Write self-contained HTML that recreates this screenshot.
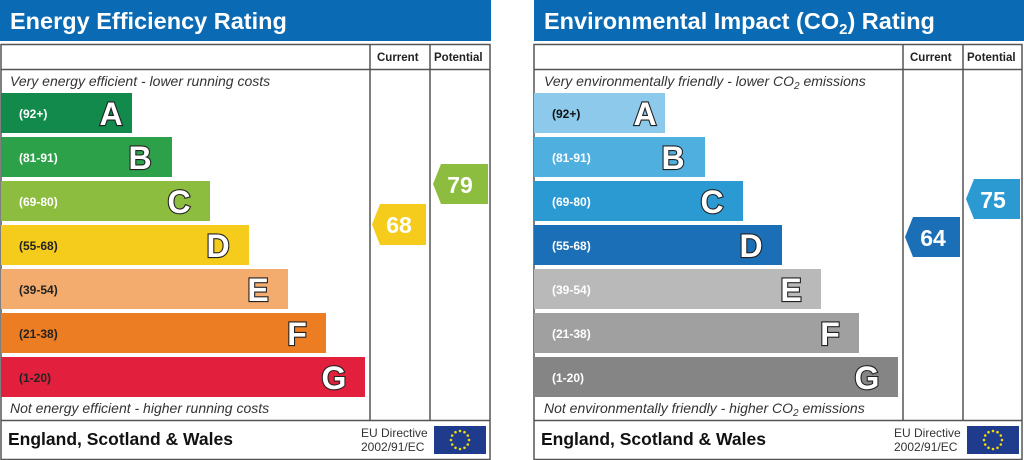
<!DOCTYPE html>
<html><head><meta charset="utf-8"><style>
html,body{margin:0;padding:0;background:#fff;}
svg{display:block;font-family:"Liberation Sans",sans-serif;}
.t{fill:#fff;font-weight:bold;font-size:23.5px;}
.h{font-size:11.5px;font-weight:bold;fill:#222;}
.it{font-style:italic;font-size:14px;fill:#333;}
.r{font-size:12px;font-weight:bold;}
.L{font-size:32px;font-weight:bold;fill:#fff;stroke:#222;stroke-width:2.2px;paint-order:stroke;}
.f{font-size:17.5px;font-weight:bold;fill:#111;}
.eu{font-size:12px;fill:#333;}
.n{font-size:23px;font-weight:bold;fill:#fff;}
</style></head><body>
<svg width="1024" height="460" viewBox="0 0 1024 460">
<defs>
<g id="eu">
<rect x="0" y="0" width="52" height="28" fill="#1f3b8c"/>
<g fill="#f5d90a">
<circle cx="26" cy="5" r="1.3"/><circle cx="30.5" cy="6.2" r="1.3"/><circle cx="33.8" cy="9.5" r="1.3"/><circle cx="35" cy="14" r="1.3"/><circle cx="33.8" cy="18.5" r="1.3"/><circle cx="30.5" cy="21.8" r="1.3"/><circle cx="26" cy="23" r="1.3"/><circle cx="21.5" cy="21.8" r="1.3"/><circle cx="18.2" cy="18.5" r="1.3"/><circle cx="17" cy="14" r="1.3"/><circle cx="18.2" cy="9.5" r="1.3"/><circle cx="21.5" cy="6.2" r="1.3"/>
</g></g>
</defs>

<!-- LEFT PANEL -->
<rect x="0" y="0" width="491" height="41" fill="#0a6ab3"/>
<text x="10" y="29" class="t">Energy Efficiency Rating</text>
<rect x="1" y="44.5" width="489" height="415" fill="#fff" stroke="#555" stroke-width="1.5"/>
<line x1="1" y1="69.5" x2="490" y2="69.5" stroke="#555" stroke-width="1.5"/>
<line x1="370" y1="44" x2="370" y2="420" stroke="#555" stroke-width="1.5"/>
<line x1="430" y1="44" x2="430" y2="420" stroke="#555" stroke-width="1.5"/>
<line x1="1" y1="420.5" x2="490" y2="420.5" stroke="#555" stroke-width="1.5"/>
<text x="377" y="61" class="h">Current</text>
<text x="434" y="61" class="h">Potential</text>
<text x="10" y="86" class="it">Very energy efficient - lower running costs</text>
<rect x="1" y="93" width="131" height="40" fill="#118a4c"/>
<rect x="1" y="137" width="171" height="40" fill="#2ca14a"/>
<rect x="1" y="181" width="209" height="40" fill="#8dbd3e"/>
<rect x="1" y="225" width="248" height="40" fill="#f5cc1c"/>
<rect x="1" y="269" width="287" height="40" fill="#f3ac6d"/>
<rect x="1" y="313" width="325" height="40" fill="#ed7d22"/>
<rect x="1" y="357" width="364" height="40" fill="#e21f3c"/>
<g class="r" fill="#fff">
<text x="19" y="118">(92+)</text>
<text x="19" y="162">(81-91)</text>
<text x="19" y="206">(69-80)</text>
</g>
<g class="r" fill="#222">
<text x="19" y="250">(55-68)</text>
<text x="19" y="294">(39-54)</text>
<text x="19" y="338">(21-38)</text>
<text x="19" y="382">(1-20)</text>
</g>
<g class="L" text-anchor="middle">
<text x="111" y="125">A</text>
<text x="140" y="169">B</text>
<text x="179" y="213">C</text>
<text x="218" y="257">D</text>
<text x="258" y="301">E</text>
<text x="297" y="345">F</text>
<text x="334" y="389">G</text>
</g>
<text x="10" y="413" class="it">Not energy efficient - higher running costs</text>
<text x="8" y="445" class="f">England, Scotland &amp; Wales</text>
<text x="361" y="437" class="eu">EU Directive</text>
<text x="361" y="451" class="eu">2002/91/EC</text>
<use href="#eu" x="434" y="426"/>
<polygon points="380,204 426,204 426,245 380,245 372,224.5" fill="#f5cc1c"/>
<text x="399" y="233" class="n" text-anchor="middle">68</text>
<polygon points="441,164 488,164 488,204 441,204 433,184" fill="#8dbd3e"/>
<text x="460" y="193" class="n" text-anchor="middle">79</text>

<!-- RIGHT PANEL -->
<g transform="translate(533,0)">
<rect x="1" y="0" width="490" height="41" fill="#0a6ab3"/>
<text x="11" y="29" class="t">Environmental Impact (CO<tspan font-size="15" dy="5">2</tspan><tspan dy="-5">) Rating</tspan></text>
<rect x="1" y="44.5" width="488" height="415" fill="#fff" stroke="#555" stroke-width="1.5"/>
<line x1="1" y1="69.5" x2="489" y2="69.5" stroke="#555" stroke-width="1.5"/>
<line x1="370" y1="44" x2="370" y2="420" stroke="#555" stroke-width="1.5"/>
<line x1="430" y1="44" x2="430" y2="420" stroke="#555" stroke-width="1.5"/>
<line x1="1" y1="420.5" x2="489" y2="420.5" stroke="#555" stroke-width="1.5"/>
<text x="377" y="61" class="h">Current</text>
<text x="434" y="61" class="h">Potential</text>
<text x="11" y="86" class="it">Very environmentally friendly - lower CO<tspan font-size="10" dy="3">2</tspan><tspan dy="-3"> emissions</tspan></text>
<rect x="1" y="93" width="131" height="40" fill="#8dc9ea"/>
<rect x="1" y="137" width="171" height="40" fill="#4fb0e0"/>
<rect x="1" y="181" width="209" height="40" fill="#2b9ad3"/>
<rect x="1" y="225" width="248" height="40" fill="#1a6fb6"/>
<rect x="1" y="269" width="287" height="40" fill="#b9b9b9"/>
<rect x="1" y="313" width="325" height="40" fill="#a0a0a0"/>
<rect x="1" y="357" width="364" height="40" fill="#858585"/>
<g class="r" fill="#111"><text x="19" y="118">(92+)</text></g>
<g class="r" fill="#fff">
<text x="19" y="162">(81-91)</text>
<text x="19" y="206">(69-80)</text>
<text x="19" y="250">(55-68)</text>
<text x="19" y="294">(39-54)</text>
<text x="19" y="338">(21-38)</text>
<text x="19" y="382">(1-20)</text>
</g>
<g class="L" text-anchor="middle">
<text x="112" y="125">A</text>
<text x="140" y="169">B</text>
<text x="179" y="213">C</text>
<text x="218" y="257">D</text>
<text x="258" y="301">E</text>
<text x="297" y="345">F</text>
<text x="334" y="389">G</text>
</g>
<text x="11" y="413" class="it">Not environmentally friendly - higher CO<tspan font-size="10" dy="3">2</tspan><tspan dy="-3"> emissions</tspan></text>
<text x="8" y="445" class="f">England, Scotland &amp; Wales</text>
<text x="361" y="437" class="eu">EU Directive</text>
<text x="361" y="451" class="eu">2002/91/EC</text>
<use href="#eu" x="434" y="426"/>
<polygon points="380,217 427,217 427,257 380,257 372,237" fill="#1a6fb6"/>
<text x="400" y="246" class="n" text-anchor="middle">64</text>
<polygon points="441,179 487,179 487,219 441,219 433,199" fill="#2b9ad3"/>
<text x="460" y="208" class="n" text-anchor="middle">75</text>
</g>
</svg>
</body></html>
